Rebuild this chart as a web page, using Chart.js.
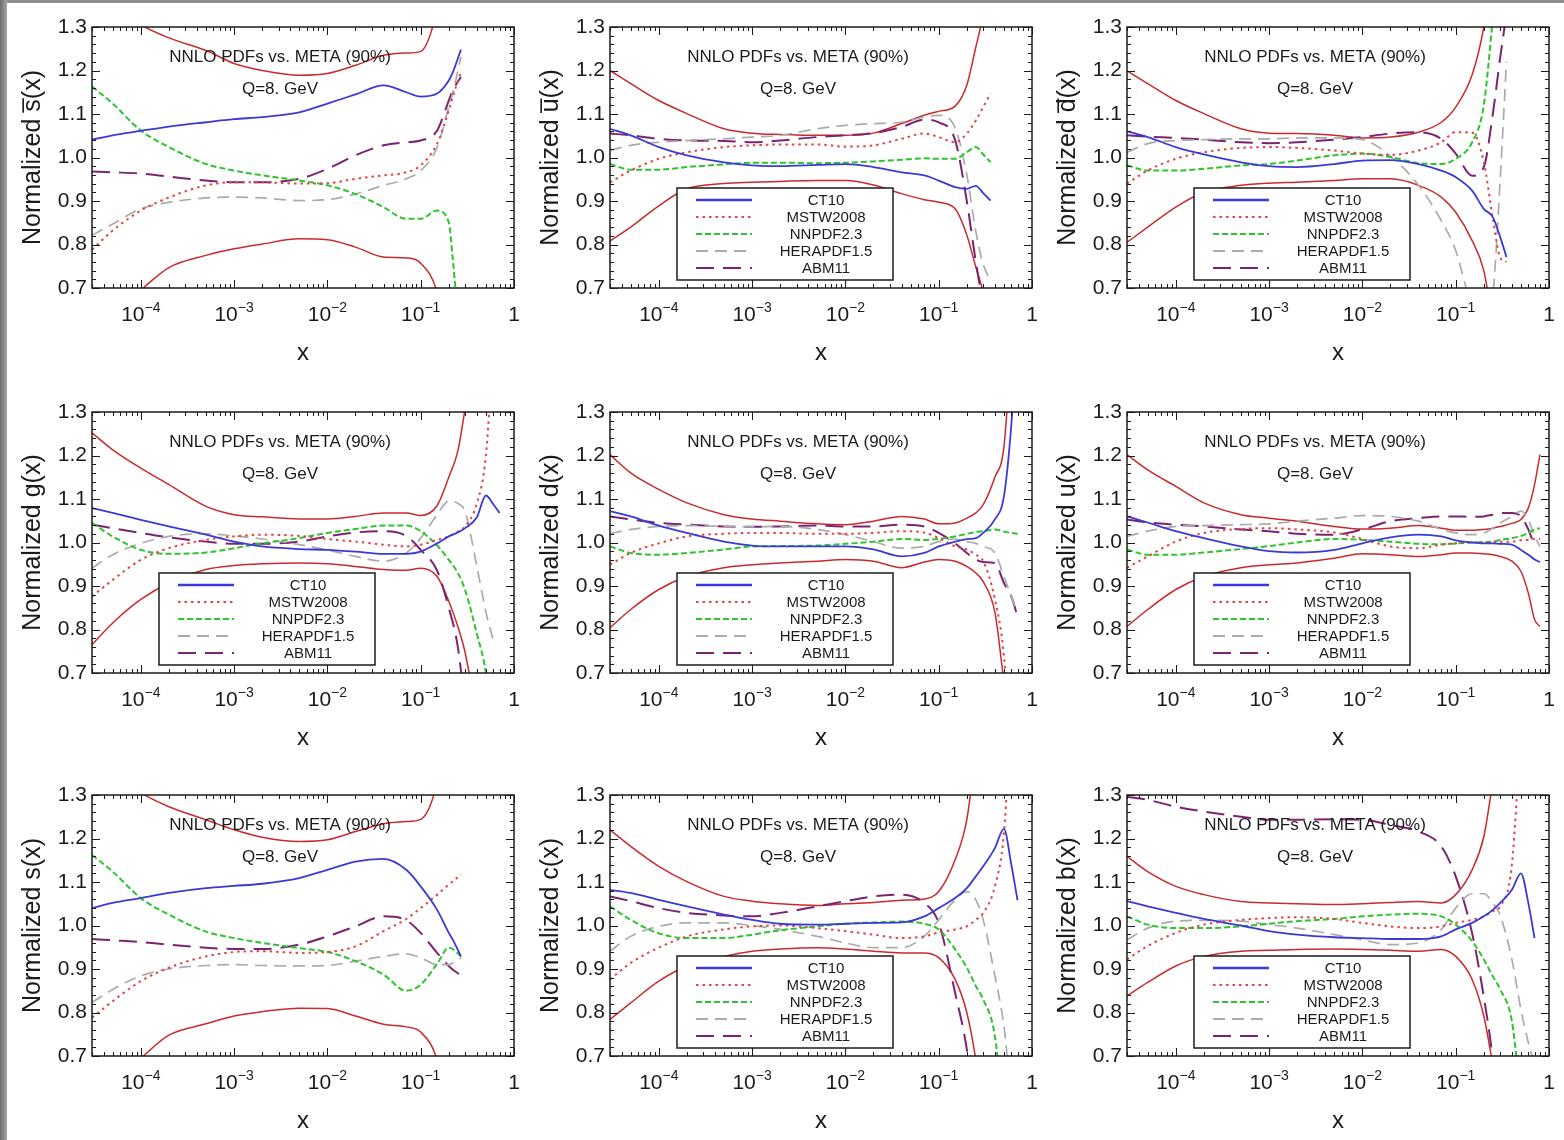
<!DOCTYPE html>
<html>
<head>
<meta charset="utf-8">
<title>NNLO PDFs vs. META (90%)</title>
<script src="https://cdn.jsdelivr.net/npm/chart.js@4.4.1/dist/chart.umd.min.js"></script>
<style>
  html, body { margin: 0; padding: 0; background: #fff; overflow: hidden; width: 1564px; height: 1140px; }
  #edgeTop { position: absolute; left: 0; top: 0; width: 1564px; height: 3px; background: #8e8e8e; }
  #edgeLeft { position: absolute; left: 0; top: 0; width: 7px; height: 1140px; background: linear-gradient(to right, #6c6c6c, #a6a6a6); }
  canvas { position: absolute; }
</style>
</head>
<body>
<div id="edgeTop"></div>
<div id="edgeLeft"></div>
<script>
// ---------- axis ticks ----------
const X_TICKS = [1e-4, 1e-3, 1e-2, 1e-1, 1];
const X_TICK_BASE = ['10', '10', '10', '10', '1'];
const X_TICK_EXP = ['\u22124', '\u22123', '\u22122', '\u22121', ''];
const Y_TICKS = [0.7, 0.8, 0.9, 1.0, 1.1, 1.2, 1.3];
const NOTE_LINES = ['NNLO PDFs vs. META (90%)', 'Q=8. GeV'];
const SERIES_NAMES = ['CT10', 'MSTW2008', 'NNPDF2.3', 'HERAPDF1.5', 'ABM11'];

// ---------- s-bar ----------
const SBAR_X    = [3e-5, 5e-5, 1e-4, 2e-4, 5e-4, 1e-3, 2e-3, 5e-3, 1e-2, 2e-2, 4e-2, 7e-2, 0.1, 0.15, 0.2, 0.22, 0.27];
const SBAR_CT10 = [1.041, 1.051, 1.061, 1.071, 1.081, 1.088, 1.093, 1.104, 1.124, 1.145, 1.166, 1.150, 1.140, 1.147, 1.177, 1.195, 1.248];
const SBAR_MSTW = [0.788, 0.832, 0.878, 0.908, 0.936, 0.943, 0.943, 0.940, 0.941, 0.951, 0.959, 0.966, 0.982, 1.032, 1.108, 1.139, 1.196];
const SBAR_NNPDF= [1.163, 1.124, 1.062, 1.024, 0.985, 0.970, 0.959, 0.947, 0.936, 0.916, 0.886, 0.859, 0.859, 0.878, 0.851, 0.77, 0.55];
const SBAR_HERA = [0.821, 0.847, 0.882, 0.897, 0.907, 0.909, 0.907, 0.901, 0.903, 0.916, 0.936, 0.951, 0.970, 1.024, 1.116, 1.147, 1.231];
const SBAR_ABM  = [0.968, 0.966, 0.963, 0.956, 0.947, 0.943, 0.943, 0.951, 0.974, 1.005, 1.028, 1.035, 1.039, 1.062, 1.131, 1.154, 1.185];
const SBAR_UP   = [1.40, 1.35, 1.305, 1.275, 1.246, 1.216, 1.200, 1.189, 1.193, 1.212, 1.235, 1.240, 1.244, 1.34, 1.5, null, null];
const SBAR_LO   = [0.58, 0.64, 0.695, 0.747, 0.775, 0.790, 0.801, 0.813, 0.811, 0.794, 0.771, 0.769, 0.757, 0.69, 0.55, null, null];

// ---------- u-bar ----------
const UBAR_X    = [3e-5, 5e-5, 1e-4, 2e-4, 5e-4, 1e-3, 2e-3, 5e-3, 1e-2, 2e-2, 4e-2, 7e-2, 0.1, 0.15, 0.2, 0.25, 0.3, 0.36];
const UBAR_CT10 = [1.066, 1.051, 1.024, 1.005, 0.989, 0.982, 0.980, 0.983, 0.985, 0.978, 0.966, 0.959, 0.947, 0.932, 0.928, 0.935, 0.918, 0.901];
const UBAR_MSTW = [0.943, 0.970, 0.997, 1.012, 1.024, 1.028, 1.030, 1.030, 1.025, 1.028, 1.043, 1.055, 1.047, 1.035, 1.055, 1.085, 1.116, 1.147];
const UBAR_NNPDF= [0.985, 0.972, 0.972, 0.978, 0.984, 0.988, 0.988, 0.987, 0.988, 0.991, 0.995, 0.998, 0.997, 0.997, 1.012, 1.024, 1.007, 0.989];
const UBAR_HERA = [1.016, 1.028, 1.035, 1.039, 1.043, 1.047, 1.051, 1.066, 1.074, 1.078, 1.081, 1.093, 1.097, 1.068, 0.96, 0.83, 0.755, 0.715];
const UBAR_ABM  = [1.055, 1.051, 1.043, 1.039, 1.038, 1.035, 1.039, 1.047, 1.051, 1.056, 1.070, 1.087, 1.081, 1.040, 0.90, 0.76, 0.66, null];
const UBAR_UP   = [1.200, 1.170, 1.131, 1.101, 1.066, 1.056, 1.053, 1.051, 1.051, 1.056, 1.078, 1.097, 1.106, 1.118, 1.166, 1.254, 1.33, 1.45];
const UBAR_LO   = [0.808, 0.840, 0.889, 0.928, 0.940, 0.943, 0.945, 0.947, 0.947, 0.937, 0.917, 0.903, 0.897, 0.882, 0.822, 0.748, 0.69, 0.6];

// ---------- d-bar ----------
const DBAR_X    = [3e-5, 5e-5, 1e-4, 2e-4, 5e-4, 1e-3, 2e-3, 5e-3, 1e-2, 2e-2, 4e-2, 7e-2, 0.1, 0.15, 0.2, 0.25, 0.3, 0.35];
const DBAR_CT10 = [1.060, 1.047, 1.024, 1.007, 0.989, 0.980, 0.978, 0.985, 0.993, 0.994, 0.985, 0.970, 0.955, 0.924, 0.882, 0.863, 0.817, 0.771];
const DBAR_MSTW = [0.940, 0.970, 0.997, 1.012, 1.022, 1.024, 1.022, 1.016, 1.009, 1.006, 1.016, 1.035, 1.058, 1.057, 0.99, 0.86, 0.77, 0.76];
const DBAR_NNPDF= [0.982, 0.970, 0.970, 0.974, 0.982, 0.985, 0.993, 1.005, 1.009, 1.001, 0.987, 0.985, 0.997, 1.035, 1.12, 1.32, 1.5, null];
const DBAR_HERA = [1.012, 1.032, 1.039, 1.041, 1.043, 1.043, 1.045, 1.045, 1.041, 1.003, 0.936, 0.855, 0.786, 0.65, 0.58, 0.68, 0.95, 1.22];
const DBAR_ABM  = [1.051, 1.048, 1.045, 1.041, 1.035, 1.033, 1.035, 1.041, 1.047, 1.055, 1.058, 1.043, 1.009, 0.958, 0.978, 1.10, 1.23, 1.33];
const DBAR_UP   = [1.199, 1.170, 1.131, 1.101, 1.066, 1.056, 1.055, 1.051, 1.045, 1.047, 1.058, 1.081, 1.116, 1.19, 1.30, 1.45, null, null];
const DBAR_LO   = [0.805, 0.840, 0.886, 0.920, 0.936, 0.941, 0.943, 0.947, 0.951, 0.951, 0.936, 0.909, 0.874, 0.809, 0.74, 0.62, null, null];

// ---------- gluon ----------
const G_X    = [3e-5, 5e-5, 1e-4, 2e-4, 5e-4, 1e-3, 2e-3, 5e-3, 1e-2, 2e-2, 4e-2, 7e-2, 0.1, 0.15, 0.2, 0.25, 0.3, 0.4, 0.5, 0.6, 0.7];
const G_CT10 = [1.079, 1.068, 1.052, 1.037, 1.018, 1.002, 0.991, 0.985, 0.983, 0.979, 0.974, 0.974, 0.979, 0.998, 1.014, 1.023, 1.033, 1.058, 1.108, 1.088, 1.068];
const G_MSTW = [0.876, 0.914, 0.960, 0.987, 1.006, 1.014, 1.018, 1.015, 1.008, 1.002, 0.995, 0.991, 0.995, 1.006, 1.014, 1.025, 1.037, 1.09, 1.2, 1.45, null];
const G_NNPDF= [1.045, 1.014, 0.983, 0.974, 0.977, 0.987, 0.998, 1.010, 1.022, 1.031, 1.039, 1.039, 1.026, 0.993, 0.96, 0.93, 0.89, 0.79, 0.70, 0.55, null];
const G_HERA = [0.941, 0.972, 0.998, 1.014, 1.020, 1.015, 1.008, 0.995, 0.983, 0.968, 0.957, 0.976, 1.010, 1.064, 1.095, 1.09, 1.07, 0.945, 0.84, 0.775, null];
const G_ABM  = [1.041, 1.033, 1.022, 1.012, 1.002, 0.997, 0.997, 1.002, 1.014, 1.023, 1.026, 1.015, 0.983, 0.935, 0.85, 0.76, 0.62, null, null, null, null];
const G_UP   = [1.252, 1.213, 1.171, 1.133, 1.083, 1.064, 1.059, 1.054, 1.054, 1.060, 1.068, 1.068, 1.062, 1.085, 1.15, 1.21, 1.31, 1.5, null, null, null];
const G_LO   = [0.765, 0.815, 0.869, 0.907, 0.938, 0.947, 0.951, 0.953, 0.951, 0.945, 0.938, 0.936, 0.941, 0.922, 0.865, 0.807, 0.746, 0.6, null, null, null];

// ---------- d ----------
const D_X    = [3e-5, 5e-5, 1e-4, 2e-4, 5e-4, 1e-3, 2e-3, 5e-3, 1e-2, 2e-2, 4e-2, 7e-2, 0.1, 0.15, 0.2, 0.25, 0.3, 0.4, 0.5, 0.6, 0.7];
const D_CT10 = [1.072, 1.060, 1.039, 1.022, 1.002, 0.993, 0.991, 0.991, 0.991, 0.984, 0.968, 0.976, 0.991, 1.002, 1.008, 1.010, 1.022, 1.053, 1.106, 1.27, 1.5];
const D_MSTW = [0.949, 0.976, 0.998, 1.014, 1.020, 1.022, 1.022, 1.020, 1.020, 1.022, 1.026, 1.023, 1.010, 0.991, 0.984, 0.972, 0.957, 0.87, 0.74, 0.5, null];
const D_NNPDF= [0.991, 0.976, 0.972, 0.976, 0.984, 0.991, 0.992, 0.993, 0.997, 1.002, 1.008, 1.006, 1.008, 1.014, 1.020, 1.024, 1.026, 1.030, 1.025, 1.022, 1.020];
const D_HERA = [1.020, 1.030, 1.037, 1.039, 1.037, 1.036, 1.037, 1.030, 1.018, 1.002, 0.987, 0.991, 1.002, 1.008, 1.002, 0.998, 0.991, 0.976, 0.922, 0.876, 0.838];
const D_ABM  = [1.060, 1.053, 1.045, 1.041, 1.037, 1.036, 1.037, 1.039, 1.037, 1.037, 1.041, 1.037, 1.022, 0.998, 0.976, 0.961, 0.955, 0.953, 0.907, 0.876, 0.830];
const D_UP   = [1.202, 1.160, 1.122, 1.091, 1.064, 1.054, 1.049, 1.043, 1.041, 1.049, 1.060, 1.054, 1.043, 1.045, 1.056, 1.068, 1.087, 1.15, 1.22, 1.45, null];
const D_LO   = [0.804, 0.846, 0.892, 0.922, 0.942, 0.949, 0.953, 0.957, 0.961, 0.957, 0.942, 0.955, 0.961, 0.957, 0.945, 0.93, 0.91, 0.84, 0.68, null, null];

// ---------- u ----------
const U_X    = [3e-5, 5e-5, 1e-4, 2e-4, 5e-4, 1e-3, 2e-3, 5e-3, 1e-2, 2e-2, 4e-2, 7e-2, 0.1, 0.15, 0.2, 0.25, 0.3, 0.4, 0.5, 0.6, 0.7, 0.8];
const U_CT10 = [1.060, 1.046, 1.026, 1.010, 0.991, 0.980, 0.977, 0.983, 0.998, 1.012, 1.018, 1.014, 1.005, 1.000, 0.998, 0.998, 0.997, 0.995, 0.983, 0.972, 0.961, 0.955];
const U_MSTW = [0.942, 0.968, 1.002, 1.022, 1.031, 1.033, 1.030, 1.023, 1.008, 0.991, 0.987, 0.995, 0.998, 1.000, 1.000, 1.001, 1.002, 1.002, 1.005, 1.006, 1.008, 1.008];
const U_NNPDF= [0.984, 0.972, 0.972, 0.977, 0.985, 0.992, 1.000, 1.008, 1.006, 1.002, 0.997, 0.996, 0.998, 1.000, 1.001, 1.002, 1.006, 1.010, 1.015, 1.022, 1.030, 1.033];
const U_HERA = [1.014, 1.026, 1.037, 1.039, 1.041, 1.043, 1.049, 1.056, 1.062, 1.060, 1.049, 1.030, 1.022, 1.018, 1.022, 1.033, 1.045, 1.060, 1.072, 1.053, 1.014, 0.991];
const U_ABM  = [1.053, 1.046, 1.041, 1.037, 1.030, 1.026, 1.020, 1.018, 1.030, 1.049, 1.056, 1.060, 1.060, 1.059, 1.060, 1.064, 1.068, 1.068, 1.060, 1.030, 0.991, null];
const U_UP   = [1.202, 1.167, 1.129, 1.091, 1.064, 1.056, 1.049, 1.037, 1.031, 1.033, 1.039, 1.033, 1.028, 1.028, 1.030, 1.033, 1.037, 1.044, 1.053, 1.079, 1.133, 1.202];
const U_LO   = [0.807, 0.846, 0.892, 0.922, 0.942, 0.949, 0.953, 0.964, 0.974, 0.972, 0.968, 0.972, 0.976, 0.976, 0.974, 0.972, 0.968, 0.957, 0.934, 0.884, 0.823, 0.807];

// ---------- s ----------
const S_X    = [3e-5, 5e-5, 1e-4, 2e-4, 5e-4, 1e-3, 2e-3, 5e-3, 1e-2, 2e-2, 4e-2, 7e-2, 0.1, 0.15, 0.2, 0.22, 0.27];
const S_CT10 = [1.040, 1.052, 1.063, 1.075, 1.086, 1.091, 1.096, 1.109, 1.128, 1.147, 1.153, 1.128, 1.090, 1.036, 0.983, 0.968, 0.929];
const S_MSTW = [0.788, 0.826, 0.872, 0.903, 0.929, 0.939, 0.941, 0.937, 0.939, 0.952, 0.987, 1.015, 1.040, 1.071, 1.094, 1.101, 1.117];
const S_NNPDF= [1.162, 1.124, 1.063, 1.025, 0.986, 0.971, 0.960, 0.948, 0.939, 0.918, 0.887, 0.850, 0.864, 0.912, 0.949, 0.946, 0.929];
const S_HERA = [0.823, 0.853, 0.884, 0.900, 0.908, 0.910, 0.908, 0.907, 0.908, 0.918, 0.929, 0.935, 0.926, 0.910, 0.910, 0.914, 0.926];
const S_ABM  = [0.969, 0.966, 0.962, 0.956, 0.949, 0.946, 0.946, 0.956, 0.975, 0.998, 1.021, 1.012, 0.983, 0.937, 0.907, 0.899, 0.885];
const S_UP   = [1.40, 1.35, 1.305, 1.273, 1.243, 1.220, 1.203, 1.193, 1.197, 1.216, 1.234, 1.239, 1.244, 1.33, 1.5, null, null];
const S_LO   = [0.58, 0.64, 0.695, 0.748, 0.774, 0.792, 0.802, 0.810, 0.809, 0.792, 0.773, 0.767, 0.755, 0.69, 0.55, null, null];

// ---------- charm ----------
const C_X    = [3e-5, 5e-5, 1e-4, 2e-4, 5e-4, 1e-3, 2e-3, 5e-3, 1e-2, 2e-2, 4e-2, 7e-2, 0.1, 0.15, 0.2, 0.25, 0.3, 0.4, 0.5, 0.6, 0.7];
const C_CT10 = [1.082, 1.075, 1.059, 1.044, 1.025, 1.013, 1.004, 1.002, 1.004, 1.006, 1.007, 1.021, 1.040, 1.063, 1.086, 1.113, 1.136, 1.178, 1.222, 1.14, 1.058];
const C_MSTW = [0.876, 0.914, 0.949, 0.975, 0.991, 0.998, 1.000, 0.994, 0.987, 0.979, 0.971, 0.975, 0.984, 0.991, 0.998, 1.013, 1.029, 1.090, 1.212, 1.5, null];
const C_NNPDF= [1.044, 1.013, 0.982, 0.971, 0.971, 0.979, 0.989, 0.998, 1.004, 1.007, 1.009, 1.004, 0.991, 0.945, 0.903, 0.861, 0.830, 0.746, 0.55, null, null];
const C_HERA = [0.941, 0.975, 0.998, 1.006, 1.006, 1.000, 0.991, 0.975, 0.960, 0.949, 0.949, 0.975, 1.013, 1.059, 1.078, 1.059, 1.013, 0.884, 0.769, 0.6, null];
const C_ABM  = [1.067, 1.056, 1.040, 1.029, 1.023, 1.021, 1.029, 1.044, 1.056, 1.067, 1.071, 1.052, 1.006, 0.845, 0.716, 0.55, null, null, null, null, null];
const C_UP   = [1.220, 1.182, 1.136, 1.101, 1.067, 1.056, 1.050, 1.046, 1.050, 1.053, 1.058, 1.061, 1.078, 1.151, 1.243, 1.4, null, null, null, null, null];
const C_LO   = [0.784, 0.822, 0.872, 0.907, 0.929, 0.941, 0.946, 0.949, 0.946, 0.941, 0.937, 0.937, 0.926, 0.876, 0.800, 0.69, 0.55, null, null, null, null];

// ---------- bottom ----------
const B_X    = [3e-5, 5e-5, 1e-4, 2e-4, 5e-4, 1e-3, 2e-3, 5e-3, 1e-2, 2e-2, 4e-2, 7e-2, 0.1, 0.15, 0.2, 0.25, 0.3, 0.4, 0.5, 0.6, 0.7];
const B_CT10 = [1.056, 1.044, 1.029, 1.015, 1.000, 0.987, 0.979, 0.973, 0.971, 0.969, 0.969, 0.975, 0.991, 1.006, 1.021, 1.036, 1.052, 1.082, 1.120, 1.052, 0.971];
const B_MSTW = [0.922, 0.953, 0.983, 1.002, 1.013, 1.017, 1.019, 1.015, 1.006, 0.998, 0.994, 0.998, 1.006, 1.013, 1.021, 1.033, 1.044, 1.14, 1.45, null, null];
const B_NNPDF= [1.021, 1.002, 0.994, 0.994, 0.998, 1.004, 1.010, 1.015, 1.021, 1.025, 1.027, 1.021, 1.002, 0.964, 0.922, 0.883, 0.853, 0.78, 0.6, null, null];
const B_HERA = [0.967, 0.994, 1.010, 1.012, 1.010, 1.002, 0.994, 0.979, 0.967, 0.956, 0.960, 0.991, 1.040, 1.073, 1.073, 1.052, 1.023, 0.922, 0.807, 0.731, 0.68];
const B_ABM  = [1.296, 1.289, 1.273, 1.262, 1.250, 1.243, 1.243, 1.244, 1.243, 1.231, 1.216, 1.182, 1.113, 0.982, 0.836, 0.69, 0.5, null, null, null, null];
const B_UP   = [1.159, 1.124, 1.090, 1.071, 1.055, 1.052, 1.050, 1.048, 1.050, 1.053, 1.055, 1.052, 1.071, 1.128, 1.204, 1.33, null, null, null, null, null];
const B_LO   = [0.838, 0.869, 0.907, 0.929, 0.941, 0.943, 0.945, 0.946, 0.945, 0.943, 0.941, 0.945, 0.929, 0.876, 0.792, 0.68, null, null, null, null, null];

// ---------- panel table (reading order) ----------
const PANELS = [
  { ylabel: 'Normalized s\u0305(x)', x: SBAR_X, curves: [SBAR_CT10, SBAR_MSTW, SBAR_NNPDF, SBAR_HERA, SBAR_ABM], band: [SBAR_UP, SBAR_LO], legend: false },
  { ylabel: 'Normalized u\u0305(x)', x: UBAR_X, curves: [UBAR_CT10, UBAR_MSTW, UBAR_NNPDF, UBAR_HERA, UBAR_ABM], band: [UBAR_UP, UBAR_LO], legend: true },
  { ylabel: 'Normalized d\u0305(x)', x: DBAR_X, curves: [DBAR_CT10, DBAR_MSTW, DBAR_NNPDF, DBAR_HERA, DBAR_ABM], band: [DBAR_UP, DBAR_LO], legend: true },
  { ylabel: 'Normalized g(x)', x: G_X, curves: [G_CT10, G_MSTW, G_NNPDF, G_HERA, G_ABM], band: [G_UP, G_LO], legend: true },
  { ylabel: 'Normalized d(x)', x: D_X, curves: [D_CT10, D_MSTW, D_NNPDF, D_HERA, D_ABM], band: [D_UP, D_LO], legend: true },
  { ylabel: 'Normalized u(x)', x: U_X, curves: [U_CT10, U_MSTW, U_NNPDF, U_HERA, U_ABM], band: [U_UP, U_LO], legend: true },
  { ylabel: 'Normalized s(x)', x: S_X, curves: [S_CT10, S_MSTW, S_NNPDF, S_HERA, S_ABM], band: [S_UP, S_LO], legend: false },
  { ylabel: 'Normalized c(x)', x: C_X, curves: [C_CT10, C_MSTW, C_NNPDF, C_HERA, C_ABM], band: [C_UP, C_LO], legend: true },
  { ylabel: 'Normalized b(x)', x: B_X, curves: [B_CT10, B_MSTW, B_NNPDF, B_HERA, B_ABM], band: [B_UP, B_LO], legend: true }
];

// ---------- styling ----------
const FONT = '"Liberation Sans", Arial, Helvetica, sans-serif';
const INK = '#1b1b1b';
const SERIES_COLORS = ['#3a3ad6', '#e04646', '#2ec42e', '#ababab', '#7c2372'];
const SERIES_DASH   = [[], [2.5, 4], [6, 3], [12, 7], [18, 9]];
const SERIES_WIDTH  = [1.8, 2, 2, 1.7, 2];
const BAND_COLOR = '#c92a2e';
const COL_LEFT = [0, 518, 1035];
const ROW_TOP = [0, 385, 768];

Chart.defaults.font.family = FONT;
Chart.defaults.color = INK;

function points(xs, ys) {
  const out = [];
  xs.forEach((x, i) => { if (ys[i] !== null && ys[i] !== undefined) out.push({ x: x, y: ys[i] }); });
  return out;
}

// frame with inward ticks on all four sides, power-of-ten labels, the annotation and the boxed legend
const frameDecor = {
  id: 'frameDecor',
  afterDatasetsDraw(chart, args, opts) {
    const { ctx, chartArea: a, scales } = chart;
    const xs = scales.x, ys = scales.y;
    ctx.save();
    ctx.strokeStyle = INK;
    ctx.lineWidth = 1;
    ctx.beginPath();
    for (let i = 0; i <= 30; i++) {
      const p = Math.round(ys.getPixelForValue(0.7 + i * 0.02)) + 0.5;
      const len = i % 5 === 0 ? 8 : 4;
      ctx.moveTo(a.left, p); ctx.lineTo(a.left + len, p);
      ctx.moveTo(a.right, p); ctx.lineTo(a.right - len, p);
    }
    for (let e = -5; e <= 0; e++) {
      for (let k = 1; k <= 9; k++) {
        const v = k * Math.pow(10, e);
        if (v < xs.min * 0.999 || v > xs.max * 1.001) continue;
        const p = Math.round(xs.getPixelForValue(v)) + 0.5;
        const len = k === 1 ? 8 : 4;
        ctx.moveTo(p, a.bottom); ctx.lineTo(p, a.bottom - len);
        ctx.moveTo(p, a.top); ctx.lineTo(p, a.top + len);
      }
    }
    ctx.stroke();
    ctx.lineWidth = 1.5;
    ctx.strokeRect(a.left, a.top, a.right - a.left, a.bottom - a.top);

    // x tick labels with raised exponents
    ctx.fillStyle = INK;
    ctx.textBaseline = 'alphabetic';
    ctx.textAlign = 'left';
    X_TICKS.forEach((v, i) => {
      const p = xs.getPixelForValue(v);
      ctx.font = '21px ' + FONT;
      const wb = ctx.measureText(X_TICK_BASE[i]).width;
      ctx.font = '14px ' + FONT;
      const we = X_TICK_EXP[i] ? ctx.measureText(X_TICK_EXP[i]).width : 0;
      const x0 = p - (wb + we) / 2;
      ctx.font = '21px ' + FONT;
      ctx.fillText(X_TICK_BASE[i], x0, a.bottom + 33);
      if (we) {
        ctx.font = '14px ' + FONT;
        ctx.fillText(X_TICK_EXP[i], x0 + wb, a.bottom + 24);
      }
    });

    ctx.font = '17px ' + FONT;
    ctx.textAlign = 'center';
    ctx.textBaseline = 'middle';
    ctx.fillText(NOTE_LINES[0], a.left + 188, a.top + 30);
    ctx.fillText(NOTE_LINES[1], a.left + 188, a.top + 62);

    if (opts.legend) {
      const bx = a.left + 67, by = a.bottom - 100, bw = 216, bh = 92;
      ctx.fillStyle = '#ffffff';
      ctx.fillRect(bx, by, bw, bh);
      ctx.strokeStyle = INK;
      ctx.lineWidth = 1.5;
      ctx.strokeRect(bx, by, bw, bh);
      ctx.font = '15px ' + FONT;
      for (let i = 0; i < SERIES_NAMES.length; i++) {
        const yy = by + 12 + i * 17;
        ctx.save();
        ctx.strokeStyle = SERIES_COLORS[i];
        ctx.lineWidth = i === 0 ? 2.4 : 2.2;
        ctx.setLineDash(SERIES_DASH[i]);
        ctx.beginPath();
        ctx.moveTo(bx + 19, yy); ctx.lineTo(bx + 75, yy);
        ctx.stroke();
        ctx.restore();
        ctx.fillStyle = INK;
        ctx.fillText(SERIES_NAMES[i], bx + 149, yy + 1);
      }
    }
    ctx.restore();
  }
};

PANELS.forEach((panel, idx) => {
  const canvas = document.createElement('canvas');
  canvas.width = 520; canvas.height = 385;
  canvas.style.width = '520px'; canvas.style.height = '385px';
  canvas.style.left = COL_LEFT[idx % 3] + 'px';
  canvas.style.top = ROW_TOP[Math.floor(idx / 3)] + 'px';
  document.body.appendChild(canvas);

  const datasets = panel.curves.map((ys, i) => ({
    label: SERIES_NAMES[i],
    data: points(panel.x, ys),
    borderColor: SERIES_COLORS[i],
    borderWidth: SERIES_WIDTH[i],
    borderDash: SERIES_DASH[i],
    fill: false
  }));
  panel.band.forEach((ys, j) => {
    datasets.push({
      label: j === 0 ? 'META upper' : 'META lower',
      data: points(panel.x, ys),
      borderColor: BAND_COLOR,
      borderWidth: 1.5,
      fill: false
    });
  });

  new Chart(canvas, {
    type: 'line',
    data: { datasets },
    options: {
      responsive: false,
      animation: false,
      events: [],
      layout: { padding: { top: 27, right: 6, left: 0, bottom: 0 } },
      elements: { point: { radius: 0 }, line: { cubicInterpolationMode: 'monotone' } },
      plugins: {
        legend: { display: false },
        tooltip: { enabled: false },
        frameDecor: { legend: panel.legend }
      },
      scales: {
        x: {
          type: 'logarithmic',
          min: 3e-5,
          max: 1,
          afterFit(s) { s.height = 97; s.paddingLeft = 0; s.paddingRight = 0; },
          afterBuildTicks(s) { s.ticks = X_TICKS.map(v => ({ value: v })); },
          grid: { display: false, drawTicks: false },
          border: { display: false },
          ticks: { display: false, autoSkip: false, maxRotation: 0, minRotation: 0 },
          title: { display: true, text: 'x', font: { size: 24 }, color: INK, padding: { top: 0, bottom: 17 } }
        },
        y: {
          min: 0.7,
          max: 1.3,
          afterFit(s) { s.width = 92; s.paddingTop = 0; s.paddingBottom = 0; },
          afterBuildTicks(s) { s.ticks = Y_TICKS.map(v => ({ value: v })); },
          grid: { display: false, drawTicks: false },
          border: { display: false },
          ticks: {
            padding: 5,
            font: { size: 21 },
            color: INK,
            callback: v => Number(v).toFixed(1)
          },
          title: { display: true, text: panel.ylabel, font: { size: 25 }, color: INK, padding: { top: 18, bottom: 0 } }
        }
      }
    },
    plugins: [frameDecor]
  });
});
</script>
</body>
</html>
